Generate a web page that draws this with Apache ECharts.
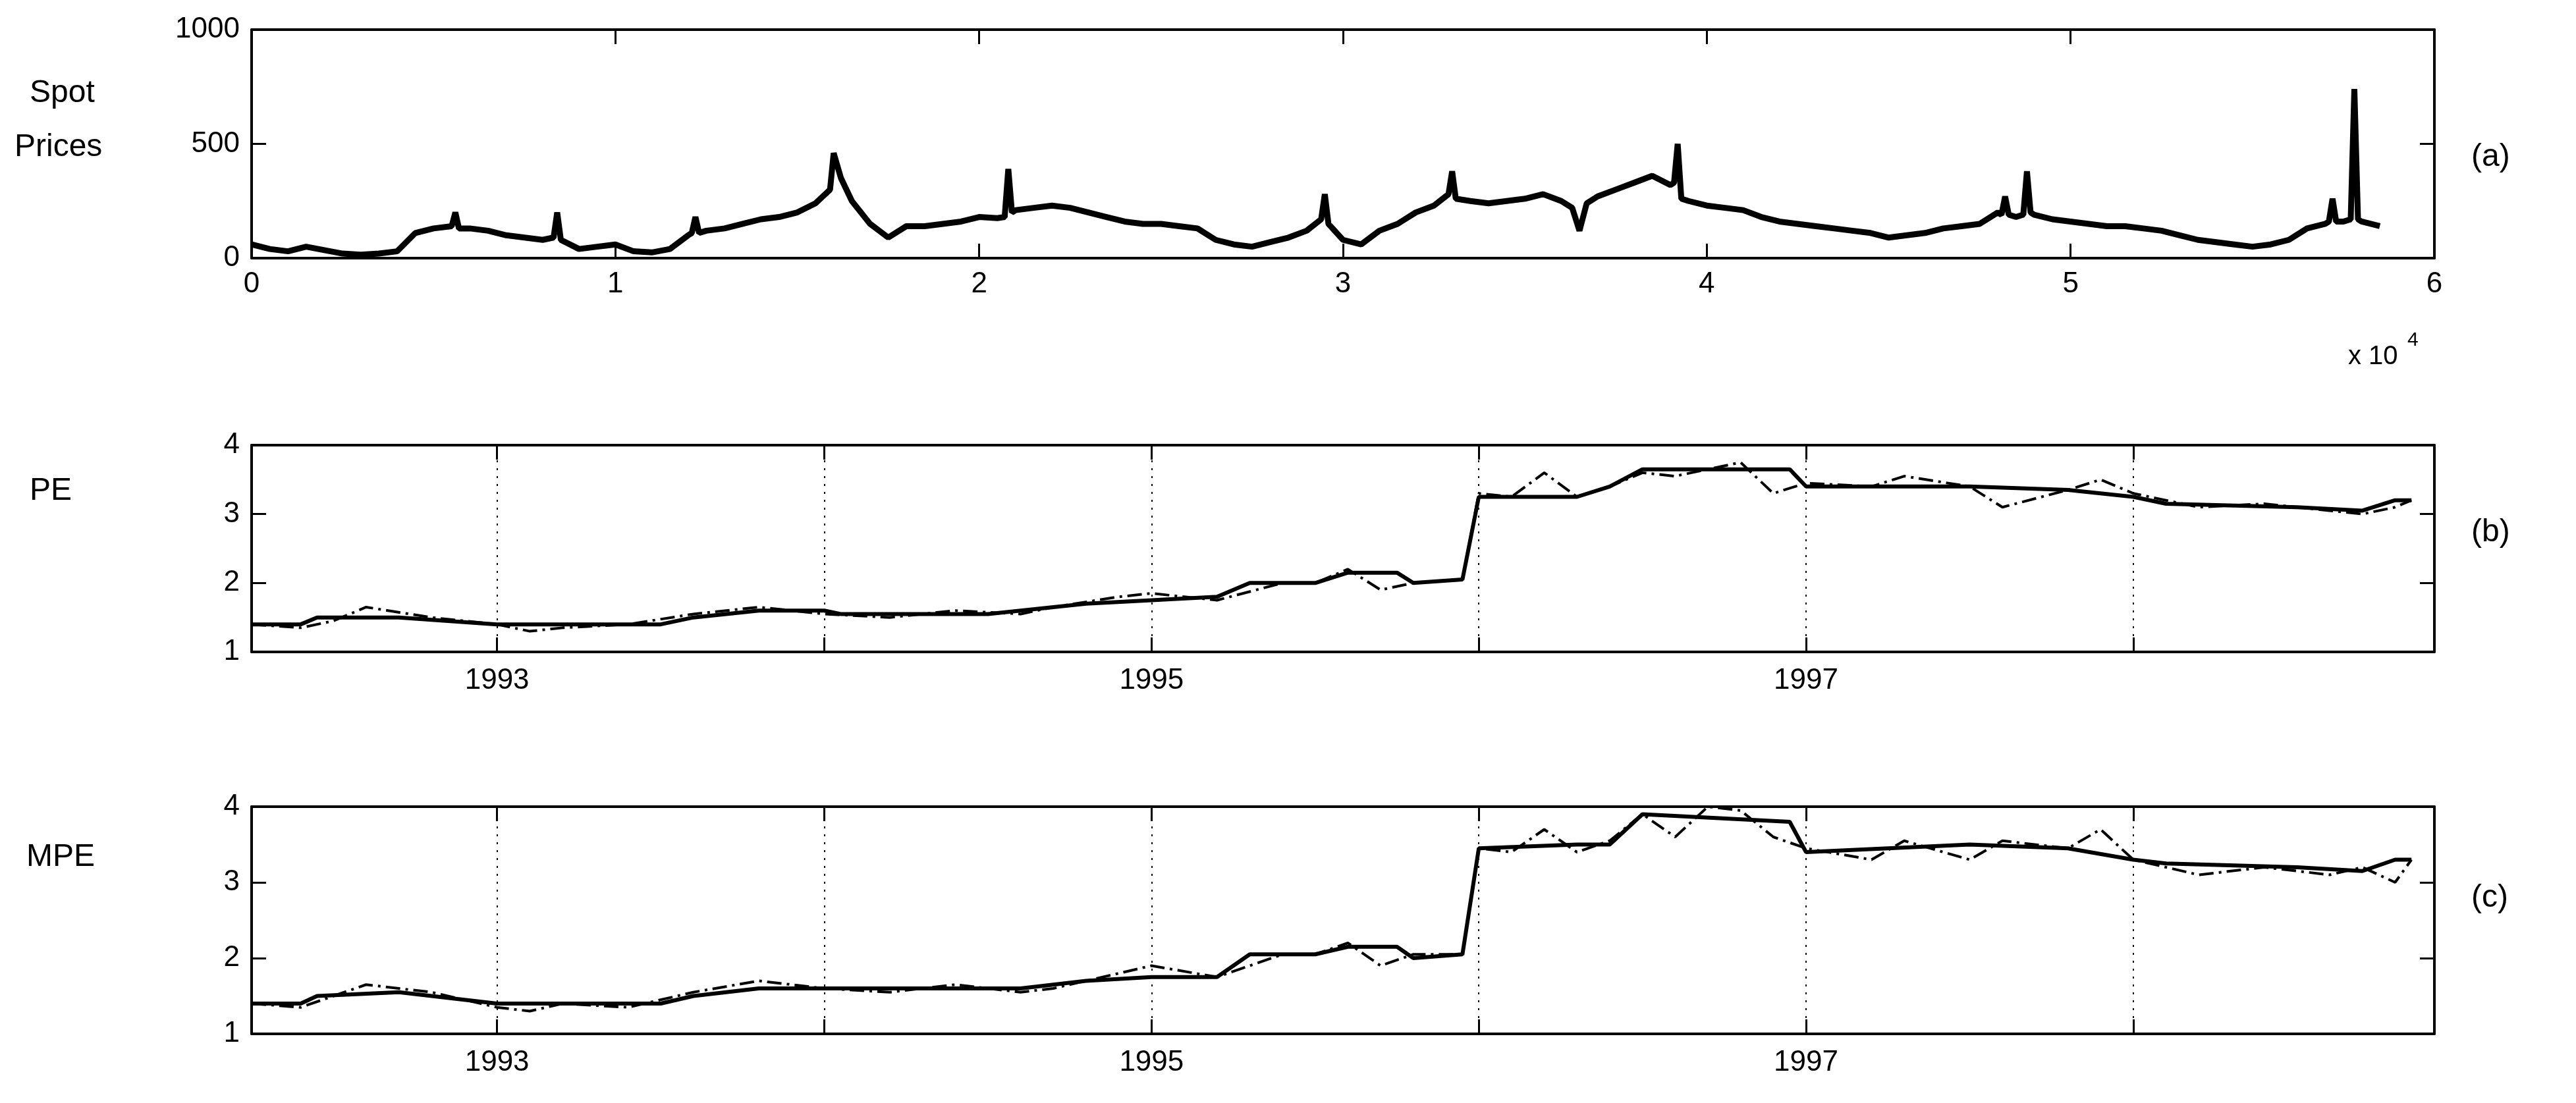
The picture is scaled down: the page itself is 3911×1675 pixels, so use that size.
<!DOCTYPE html>
<html><head><meta charset="utf-8">
<script src="https://cdn.jsdelivr.net/npm/echarts@6/dist/echarts.min.js"></script>
<style>html,body{margin:0;background:#fff}#c{width:3911px;height:1675px}</style>
</head><body><div id="c"></div>
<script>
// Panel (a): spot prices, x in units of 10^4
const spotX = [0,0.05,0.1,0.15,0.2,0.25,0.3,0.35,0.4,0.45,0.5,0.55,0.56,0.57,0.6,0.65,0.7,0.75,0.8,0.83,0.84,0.85,0.9,0.95,1.0,1.05,1.1,1.15,1.2,1.21,1.22,1.23,1.25,1.3,1.35,1.4,1.45,1.5,1.55,1.59,1.6,1.62,1.65,1.7,1.75,1.8,1.85,1.9,1.95,2.0,2.05,2.07,2.08,2.09,2.1,2.15,2.2,2.25,2.3,2.35,2.4,2.45,2.5,2.55,2.6,2.65,2.7,2.75,2.8,2.85,2.9,2.94,2.95,2.96,3.0,3.05,3.1,3.15,3.2,3.25,3.29,3.3,3.31,3.35,3.4,3.45,3.5,3.55,3.6,3.63,3.65,3.67,3.7,3.75,3.8,3.85,3.9,3.91,3.92,3.93,3.95,4.0,4.05,4.1,4.15,4.2,4.25,4.3,4.35,4.4,4.45,4.5,4.55,4.6,4.65,4.7,4.75,4.8,4.81,4.82,4.83,4.85,4.87,4.88,4.89,4.9,4.95,5.0,5.05,5.1,5.15,5.2,5.25,5.3,5.35,5.4,5.45,5.5,5.55,5.6,5.65,5.7,5.71,5.72,5.73,5.75,5.77,5.78,5.79,5.8,5.85];
const spotY = [60,40,30,50,35,20,15,20,30,110,130,140,200,130,130,120,100,90,80,90,200,80,40,50,60,30,25,40,100,110,180,110,120,130,150,170,180,200,240,300,460,350,250,150,90,140,140,150,160,180,175,180,390,200,210,220,230,220,200,180,160,150,150,140,130,80,60,50,70,90,120,170,280,150,80,60,120,150,200,230,280,380,260,250,240,250,260,280,250,220,120,240,270,300,330,360,320,330,500,260,250,230,220,210,180,160,150,140,130,120,110,90,100,110,130,140,150,200,190,270,190,180,190,380,200,190,170,160,150,140,140,130,120,100,80,70,60,50,60,80,130,150,160,260,160,160,170,740,170,160,140];
const spotTicksX = [0,1,2,3,4,5,6];
const spotTicksY = [0,500,1000];

// Panel (b) PE and (c) MPE, x in years
const yearLines = [1993,1994,1995,1996,1997,1998];
const yearLabels = [1993,1995,1997];
const peX = [1992.25,1992.4,1992.45,1992.7,1993.0,1993.05,1993.5,1993.6,1993.8,1994.0,1994.05,1994.5,1994.6,1994.8,1995.0,1995.2,1995.3,1995.5,1995.6,1995.75,1995.8,1995.95,1996.0,1996.3,1996.4,1996.5,1996.95,1997.0,1997.5,1997.8,1998.0,1998.1,1998.5,1998.7,1998.8,1998.85];
const peSolid = [1.4,1.4,1.5,1.5,1.4,1.4,1.4,1.5,1.6,1.6,1.55,1.55,1.6,1.7,1.75,1.8,2.0,2.0,2.15,2.15,2.0,2.05,3.25,3.25,3.4,3.65,3.65,3.4,3.4,3.35,3.25,3.15,3.1,3.05,3.2,3.2];
const peDashX = [1992.25,1992.4,1992.5,1992.6,1992.8,1993.0,1993.1,1993.2,1993.4,1993.6,1993.8,1994.0,1994.2,1994.4,1994.6,1994.7,1994.9,1995.0,1995.2,1995.4,1995.5,1995.6,1995.7,1995.8,1995.95,1996.0,1996.1,1996.2,1996.3,1996.4,1996.5,1996.6,1996.7,1996.8,1996.9,1997.0,1997.2,1997.3,1997.5,1997.6,1997.8,1997.9,1998.0,1998.2,1998.4,1998.6,1998.7,1998.8,1998.85];
const peDash = [1.4,1.35,1.45,1.65,1.5,1.4,1.3,1.35,1.4,1.55,1.65,1.55,1.5,1.6,1.55,1.65,1.8,1.85,1.75,2.0,2.0,2.2,1.9,2.0,2.05,3.3,3.25,3.6,3.25,3.4,3.6,3.55,3.65,3.75,3.3,3.45,3.4,3.55,3.4,3.1,3.35,3.5,3.3,3.1,3.15,3.05,3.0,3.1,3.2];
const mpeSolid = [1.4,1.4,1.5,1.55,1.4,1.4,1.4,1.5,1.6,1.6,1.6,1.6,1.6,1.7,1.75,1.75,2.05,2.05,2.15,2.15,2.0,2.05,3.45,3.5,3.5,3.9,3.8,3.4,3.5,3.45,3.3,3.25,3.2,3.15,3.3,3.3];
const mpeDash = [1.4,1.35,1.5,1.65,1.55,1.35,1.3,1.4,1.35,1.55,1.7,1.6,1.55,1.65,1.55,1.6,1.8,1.9,1.75,2.05,2.05,2.2,1.9,2.05,2.05,3.45,3.4,3.7,3.4,3.55,3.9,3.6,4.0,3.95,3.6,3.45,3.3,3.55,3.3,3.55,3.45,3.7,3.3,3.1,3.2,3.1,3.2,3.0,3.3];
const peTicksY = [1,2,3,4];

const FONT = 'Liberation Sans';
const pair = (xs, ys) => xs.map((x, i) => [x, ys[i]]);
const axisLine = {show:true, onZero:false, lineStyle:{color:'#000', width:4}};
const tickIn = {show:true, inside:true, length:22, lineStyle:{color:'#000', width:3}};
const lbl = {color:'#000', fontFamily:FONT, fontSize:44, formatter:v=>String(Math.round(v))};

const grids = [
  {left:382, top:45, width:3314, height:347},
  {left:382, top:676, width:3314, height:314},
  {left:382, top:1225, width:3314, height:345}
];
const xAxes = [], yAxes = [];
function addAxes(gi, xmin, xmax, xcfg, ymin, ymax, yvals) {
  xAxes.push(Object.assign({type:'value', gridIndex:gi, position:'bottom', min:xmin, max:xmax, axisLine, splitLine:{show:false}}, xcfg.bottom));
  xAxes.push(Object.assign({type:'value', gridIndex:gi, position:'top', min:xmin, max:xmax, axisLine, splitLine:{show:false}, axisLabel:{show:false}}, xcfg.top));
  yAxes.push({type:'value', gridIndex:gi, position:'left', min:ymin, max:ymax, axisLine, splitLine:{show:false}, axisTick:Object.assign({customValues:yvals}, tickIn), axisLabel:Object.assign({customValues:yvals, margin:18}, lbl)});
  yAxes.push({type:'value', gridIndex:gi, position:'right', min:ymin, max:ymax, axisLine, splitLine:{show:false}, axisTick:Object.assign({customValues:yvals}, tickIn), axisLabel:{show:false}});
}
addAxes(0, 0, 6, {
  bottom:{axisTick:Object.assign({customValues:spotTicksX}, tickIn), axisLabel:Object.assign({customValues:spotTicksX, margin:18}, lbl)},
  top:{axisTick:Object.assign({customValues:spotTicksX}, tickIn)}
}, 0, 1000, spotTicksY);
for (const gi of [1,2]) {
  addAxes(gi, 1992.25, 1998.92, {
    bottom:{axisTick:Object.assign({customValues:yearLines}, tickIn), axisLabel:Object.assign({customValues:yearLabels, margin:22}, lbl)},
    top:{axisTick:Object.assign({customValues:yearLines}, tickIn)}
  }, 1, 4, peTicksY);
}

const vlines = {silent:true, symbol:'none', label:{show:false}, lineStyle:{color:'#000', type:[3,9], width:2}, data:yearLines.map(y=>({xAxis:y}))};
const solid = {color:'#000', width:6};
const dash = {color:'#000', width:4, type:[22,8,4,8]};
const series = [
  {type:'line', xAxisIndex:0, yAxisIndex:0, data:pair(spotX, spotY), showSymbol:false, lineStyle:{color:'#000', width:9}},
  {type:'line', xAxisIndex:2, yAxisIndex:2, data:pair(peDashX, peDash), showSymbol:false, lineStyle:dash, markLine:vlines},
  {type:'line', xAxisIndex:2, yAxisIndex:2, data:pair(peX, peSolid), showSymbol:false, lineStyle:solid},
  {type:'line', xAxisIndex:4, yAxisIndex:4, data:pair(peDashX, mpeDash), showSymbol:false, lineStyle:dash, markLine:vlines},
  {type:'line', xAxisIndex:4, yAxisIndex:4, data:pair(peX, mpeSolid), showSymbol:false, lineStyle:solid}
];

const t = (x, y, text, extra) => ({type:'text', left:x, top:y, style:Object.assign({text, fill:'#000', font:'48px "Liberation Sans"'}, extra||{})});
const chart = echarts.init(document.getElementById('c'));
chart.setOption({
  animation:false, backgroundColor:'#fff',
  grid:grids, xAxis:xAxes, yAxis:yAxes, series,
  graphic:[
    t(45,118,'Spot'), t(22,200,'Prices'),
    t(45,722,'PE'), t(40,1278,'MPE'),
    t(3752,215,'(a)'), t(3752,785,'(b)'), t(3752,1340,'(c)'),
    t(3565,522,'x 10', {font:'40px "Liberation Sans"'}),
    t(3655,502,'4', {font:'30px "Liberation Sans"'})
  ]
});
</script></body></html>
